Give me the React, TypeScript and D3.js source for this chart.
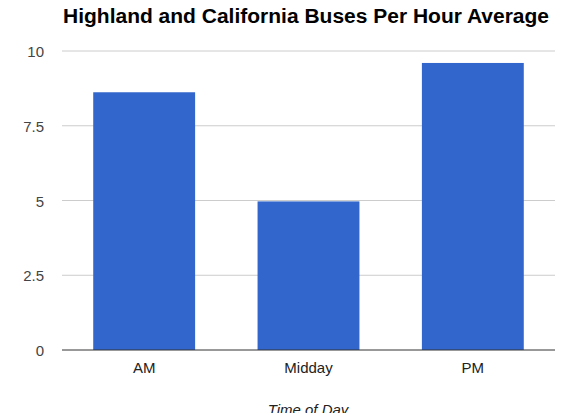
import React from "react";
import * as d3 from "d3";

const categories = ["AM", "Midday", "PM"];
const values = [8.62, 4.97, 9.6];
const yTicks = [0, 2.5, 5, 7.5, 10];
const title = "Highland and California Buses Per Hour Average";
const xTitle = "Time of Day";

const W = 586, H = 413;
const left = 62, right = 555, top = 51, bottom = 350;

export default function App() {
  const x = d3.scaleBand<string>().domain(categories).range([left, right]).paddingInner(0.38).paddingOuter(0.19);
  const y = d3.scaleLinear().domain([0, 10]).range([bottom, top]);
  const font = "Arial, 'Liberation Sans', sans-serif";
  return (
    <svg width={W} height={H} style={{ position: "absolute", left: 0, top: 0, background: "#fff" }}>
      <text x={63} y={23} fontFamily={font} fontWeight="bold" fontSize={19.5} textLength={486} lengthAdjust="spacingAndGlyphs" fill="#000">{title}</text>
      {yTicks.map((t) => (
        <g key={t}>
          {t !== 0 && <line x1={left} x2={right} y1={y(t)} y2={y(t)} stroke="#cccccc" strokeWidth={1} />}
          <text x={44} y={y(t) + 6} textAnchor="end" fontFamily={font} fontSize={15} fill="#444">{t}</text>
        </g>
      ))}
      {categories.map((c, i) => (
        <rect key={c} x={x(c)} y={y(values[i])} width={x.bandwidth()} height={bottom - y(values[i])} fill="#3366cc" />
      ))}
      <line x1={left} x2={right} y1={bottom} y2={bottom} stroke="#333" strokeWidth={1} />
      {categories.map((c) => (
        <text key={c} x={(x(c) as number) + x.bandwidth() / 2} y={373} textAnchor="middle" fontFamily={font} fontSize={15} fill="#222">{c}</text>
      ))}
      <text x={308} y={415} textAnchor="middle" fontFamily={font} fontStyle="italic" fontSize={15} fill="#222">{xTitle}</text>
    </svg>
  );
}
